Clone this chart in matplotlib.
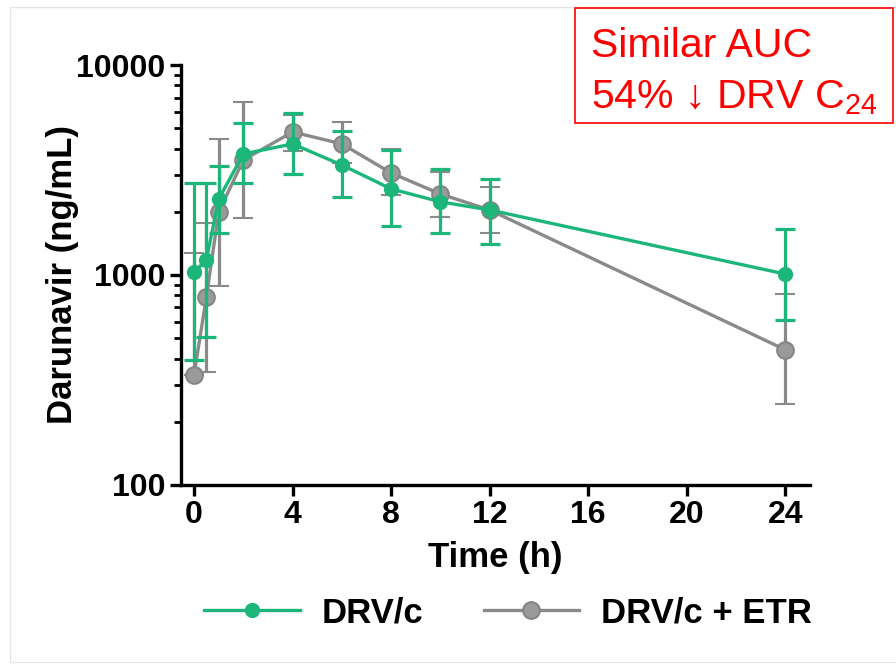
import matplotlib.pyplot as plt
import numpy as np
from matplotlib.patches import Rectangle
from matplotlib.lines import Line2D

plt.rcParams['font.family'] = ['Liberation Sans', 'DejaVu Sans']
plt.rcParams['mathtext.fontset'] = 'custom'
plt.rcParams['mathtext.rm'] = 'Liberation Sans'

# Time points (h)
times = [0, 0.5, 1, 2, 4, 6, 8, 10, 12, 24]

# DRV/c: mean and error bar limits (ng/mL)
drv = [1030, 1180, 2300, 3770, 4210, 3340, 2570, 2230, 2040, 1010]
drv_lo = [394, 507, 1585, 2740, 3020, 2350, 1710, 1585, 1405, 611]
drv_hi = [2750, 2750, 3300, 5290, 5910, 4850, 3940, 3200, 2860, 1655]

# DRV/c + ETR
etr = [334, 785, 1995, 3530, 4800, 4210, 3060, 2430, 2040, 440]
etr_lo = [334, 345, 887, 1870, 3900, 3400, 2400, 1890, 1585, 243]
etr_hi = [1275, 1770, 4450, 6670, 5800, 5350, 3980, 3100, 2625, 813]

green = '#1db67a'
gray = '#8a8a8a'

fig = plt.figure(figsize=(8.96, 6.67), dpi=100)
ax = fig.add_axes([0.202, 0.273, 0.702, 0.6295])

etr_err = [np.array(etr) - np.array(etr_lo), np.array(etr_hi) - np.array(etr)]
drv_err = [np.array(drv) - np.array(drv_lo), np.array(drv_hi) - np.array(drv)]

ax.errorbar(times, etr, yerr=etr_err, color=gray, lw=2.4, marker='o', ms=12,
            mfc='#9a9a9a', mec='#858585', mew=1.5, elinewidth=2.3,
            capsize=7, capthick=2.3, zorder=2)
ax.errorbar(times, drv, yerr=drv_err, color=green, lw=2.4, marker='o', ms=10,
            mfc=green, mec=green, elinewidth=2.3,
            capsize=7, capthick=2.3, zorder=3)

ax.set_yscale('log')
ax.set_ylim(100, 10000)
ax.set_xlim(-0.53, 25.0)
ax.set_xticks([0, 4, 8, 12, 16, 20, 24])
ax.set_yticks([100, 1000, 10000])
ax.set_yticklabels(['100', '1000', '10000'])

for s in ['top', 'right']:
    ax.spines[s].set_visible(False)
for s in ['left', 'bottom']:
    ax.spines[s].set_linewidth(2.4)

ax.tick_params(axis='both', which='major', width=2.4, length=8,
               labelsize=23, pad=3)
ax.tick_params(axis='y', which='minor', width=2.0, length=5)
for lab in ax.get_xticklabels() + ax.get_yticklabels():
    lab.set_fontweight('bold')

ax.set_xlabel('Time (h)', fontsize=25, fontweight='bold', labelpad=8)
ax.set_ylabel('Darunavir (ng/mL)', fontsize=25, fontweight='bold', labelpad=-2)

handles = [Line2D([], [], color=green, lw=2.4, marker='o', ms=10),
           Line2D([], [], color=gray, lw=2.4, marker='o', ms=12,
                  mfc='#9a9a9a', mec='#858585', mew=1.5)]
fig.legend(handles, ['DRV/c', 'DRV/c + ETR'], loc='center left', ncol=2,
           bbox_to_anchor=(204 / 896, 1 - 613 / 667), frameon=False,
           prop={'weight': 'bold', 'size': 25}, handlelength=2.76,
           columnspacing=1.73, handletextpad=0.63, borderpad=0,
           borderaxespad=0)

# faint slide border
fig.patches.append(Rectangle((10 / 896, 1 - 662 / 667), 1, (662 - 7) / 667,
                             transform=fig.transFigure, fill=False,
                             ec='#e6e6e6', lw=1))

# red annotation box
fig.patches.append(Rectangle((575 / 896, 1 - 123 / 667), (893 - 575) / 896,
                             (123 - 8) / 667, transform=fig.transFigure,
                             fill=False, ec='#ff0000', lw=1.2))
fig.text(591 / 896, 1 - 57 / 667, 'Similar AUC', color='#ff0000',
         fontsize=29.5, va='baseline')
fig.text(591 / 896, 1 - 108 / 667, r'54% ↓ DRV C$_{24}$', color='#ff0000',
         fontsize=29.5, va='baseline')

fig.savefig('out.png', dpi=100, facecolor='white')
